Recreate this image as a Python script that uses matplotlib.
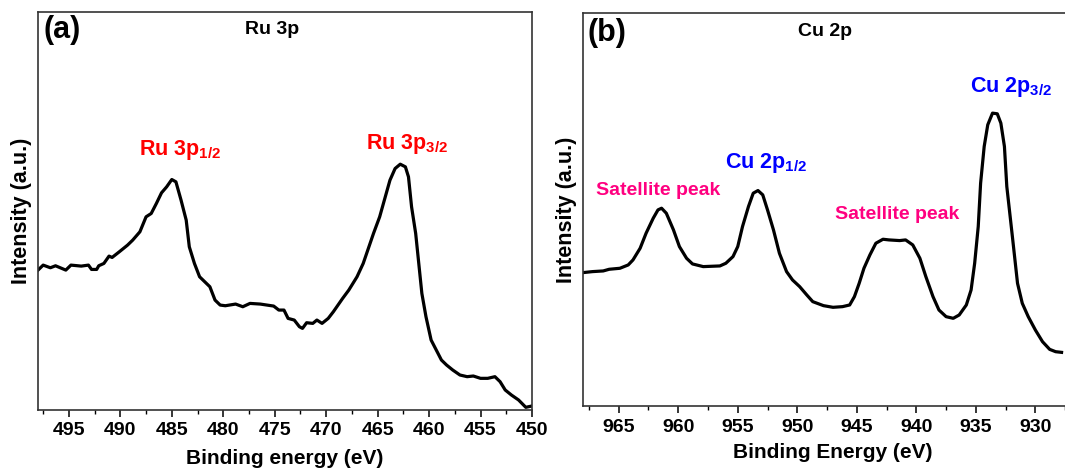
import matplotlib
matplotlib.use('Agg')
import matplotlib.pyplot as plt
from matplotlib.ticker import MultipleLocator

plt.rcParams['font.family'] = ['Liberation Sans', 'DejaVu Sans']
plt.rcParams['font.weight'] = 'bold'
plt.rcParams['mathtext.fontset'] = 'custom'
plt.rcParams['mathtext.rm'] = 'Liberation Sans:bold'
plt.rcParams['mathtext.bf'] = 'Liberation Sans:bold'

# %% data
# Ru 3p spectrum (binding energy in eV, intensity in arbitrary units)
ru_be = [498.0, 497.5, 496.8, 496.3, 495.3, 494.8, 493.8, 493.1, 492.8, 492.3, 492.1,
         491.6, 491.1, 490.8, 490.1, 489.3, 488.8, 488.1, 487.5, 487.0, 486.5, 486.0,
         485.5, 485.0, 484.6, 484.1, 483.6, 483.3, 482.8, 482.3, 481.8, 481.3, 480.8,
         480.3, 479.8, 478.8, 478.1, 477.4, 476.4, 475.1, 474.6, 474.1, 473.7, 473.1,
         472.6, 472.3, 471.9, 471.3, 470.9, 470.4, 469.8, 469.3, 468.4, 467.8, 467.0,
         466.4, 465.9, 465.4, 464.8, 464.3, 463.8, 463.3, 462.8, 462.3, 462.0, 461.7,
         461.3, 461.0, 460.7, 460.3, 459.8, 459.3, 458.8, 458.3, 457.7, 457.0, 456.3,
         455.7, 455.0, 454.3, 453.6, 453.1, 452.6, 452.0, 451.3, 450.6, 450.0]
ru_int = [420, 435, 427, 433, 420, 435, 432, 435, 422, 422, 433,
          440, 462, 458, 475, 495, 510, 535, 580, 590, 620, 652,
          670, 692, 685, 630, 570, 490, 440, 400, 385, 370, 330,
          315, 313, 318, 310, 320, 318, 312, 300, 300, 275, 270,
          250, 245, 262, 260, 270, 260, 275, 295, 335, 360, 400,
          440, 485, 530, 580, 635, 690, 725, 738, 730, 700, 610,
          530, 440, 350, 280, 210, 180, 150, 135, 120, 105, 100,
          102, 95, 95, 100, 85, 60, 45, 30, 8, 12]

# Cu 2p spectrum
cu_be = [968.0, 967.2, 966.3, 965.8, 964.9, 964.2, 963.8, 963.2, 962.7, 962.1, 961.7,
         961.4, 961.0, 960.4, 959.9, 959.3, 958.8, 957.9, 956.5, 956.0, 955.4, 955.0,
         954.6, 954.1, 953.7, 953.3, 952.9, 952.5, 952.0, 951.5, 950.9, 950.4, 949.8,
         949.2, 948.7, 947.8, 947.0, 946.2, 945.6, 945.2, 944.8, 944.4, 943.9, 943.4,
         942.8, 942.3, 941.4, 940.9, 940.3, 939.7, 939.2, 938.6, 938.1, 937.5, 936.9,
         936.4, 935.8, 935.4, 935.1, 934.8, 934.6, 934.3, 934.0, 933.6, 933.2, 932.9,
         932.6, 932.4, 931.9, 931.5, 931.1, 930.6, 930.0, 929.4, 928.8, 928.3, 927.8]
cu_int = [400, 403, 405, 410, 413, 423, 438, 473, 518, 563, 588,
          593, 578, 528, 478, 443, 426, 418, 420, 428, 448, 478,
          538, 598, 638, 646, 633, 588, 528, 458, 403, 378, 358,
          333, 313, 301, 296, 298, 303, 328, 368, 413, 453, 488,
          500, 498, 496, 498, 483, 443, 388, 328, 288, 268, 263,
          273, 303, 348, 428, 538, 668, 778, 843, 878, 876, 848,
          778, 658, 498, 368, 308, 268, 228, 193, 170, 163, 161]

fig = plt.figure(figsize=(10.65, 4.70), dpi=100)

# %% panel (a) Ru 3p
ax1 = fig.add_axes([0.0357, 0.1277, 0.4638, 0.8468])
ax1.plot(ru_be, ru_int, color='black', lw=2.3, solid_joinstyle='round')
ax1.set_xlim(498, 450)
ax1.set_ylim(0, 1195)
ax1.xaxis.set_major_locator(MultipleLocator(5))
ax1.xaxis.set_minor_locator(MultipleLocator(2.5))
ax1.set_xlabel('Binding energy (eV)', fontsize=15, fontweight='bold', labelpad=7)
ax1.set_ylabel('Intensity (a.u.)', fontsize=15.5, fontweight='bold', labelpad=4)
ax1.text(0.012, 0.955, '(a)', transform=ax1.transAxes, fontsize=22,
         fontweight='bold', va='center', ha='left')
ax1.text(0.474, 0.955, 'Ru 3p', transform=ax1.transAxes, fontsize=14,
         fontweight='bold', va='center', ha='center')
ax1.text(488.2, 780, r'Ru 3p$_{1/2}$', color='#ff0000', fontsize=15.5,
         fontweight='bold', va='center', ha='left')
ax1.text(466.1, 800, r'Ru 3p$_{3/2}$', color='#ff0000', fontsize=15.5,
         fontweight='bold', va='center', ha='left')

# %% panel (b) Cu 2p
ax2 = fig.add_axes([0.5474, 0.136, 0.4695, 0.8363])
ax2.plot(cu_be, cu_int, color='black', lw=2.3, solid_joinstyle='round')
ax2.set_xlim(968, 926)
ax2.set_ylim(0, 1178)
ax2.xaxis.set_major_locator(MultipleLocator(5))
ax2.xaxis.set_minor_locator(MultipleLocator(2.5))
ax2.set_xlabel('Binding Energy (eV)', fontsize=15, fontweight='bold', labelpad=5)
ax2.set_ylabel('Intensity (a.u.)', fontsize=15.5, fontweight='bold', labelpad=4)
ax2.text(0.01, 0.949, '(b)', transform=ax2.transAxes, fontsize=22,
         fontweight='bold', va='center', ha='left')
ax2.text(0.484, 0.952, 'Cu 2p', transform=ax2.transAxes, fontsize=14,
         fontweight='bold', va='center', ha='center')
ax2.text(935.5, 956, r'Cu 2p$_{3/2}$', color='#0000ff', fontsize=15.5,
         fontweight='bold', va='center', ha='left')
ax2.text(956.1, 728, r'Cu 2p$_{1/2}$', color='#0000ff', fontsize=15.5,
         fontweight='bold', va='center', ha='left')
ax2.text(966.9, 646, 'Satellite peak', color='#ff0080', fontsize=14,
         fontweight='bold', va='center', ha='left')
ax2.text(946.8, 573, 'Satellite peak', color='#ff0080', fontsize=14,
         fontweight='bold', va='center', ha='left')

for ax in (ax1, ax2):
    ax.set_yticks([])
    for s in ax.spines.values():
        s.set_linewidth(1.2)
        s.set_color('#333333')
    ax.tick_params(axis='x', which='major', direction='out', length=5, width=1.1,
                   labelsize=14, pad=4)
    ax.tick_params(axis='x', which='minor', direction='out', length=3, width=1.0)
    for lab in ax.get_xticklabels():
        lab.set_fontweight('bold')

fig.savefig('out.png', dpi=100)
